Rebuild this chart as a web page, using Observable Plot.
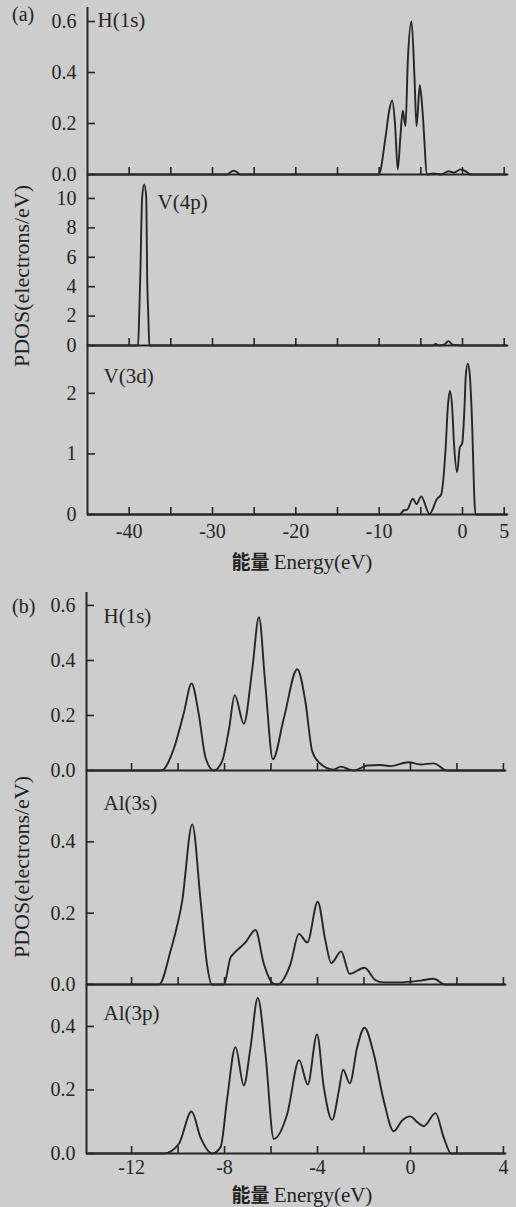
<!DOCTYPE html>
<html>
<head>
<meta charset="utf-8">
<script src="https://cdn.jsdelivr.net/npm/d3@7"></script>
<script src="https://cdn.jsdelivr.net/npm/@observablehq/plot@0.6"></script>
<style>
  html, body { margin: 0; padding: 0; background: #cdcdcd; }
  #wrap { position: relative; width: 516px; height: 1207px; background: #cdcdcd; overflow: hidden; }
  #wrap svg { position: absolute; left: 0; }
  .t { position: absolute; color: #222; font-family: "Liberation Serif", "Times New Roman", serif; white-space: nowrap; line-height: 1; }
  .cjk { font-family: "Noto Sans CJK SC", sans-serif; font-weight: 700; font-size: 19px; }
</style>
</head>
<body>
<div id="wrap"></div>
<script>
// ---------- Data ----------
// Panel (a): energy axis -45..5 eV
const aXTicks = [-40, -35, -30, -25, -20, -15, -10, -5, 0, 5];
const aXLabels = [-40, -30, -20, -10, 0, 5];

const aH1sE = [-45, -28.2, -27.9, -27.45, -27.0, -26.7, -10.05, -9.24, -8.8, -8.44, -8.1, -7.77, -7.45, -7.17, -6.84, -6.56, -6.12, -5.76, -5.52, -5.12, -4.8, -4.24, -3.5, -2.5, -1.68, -1.0, -0.24, 0.4, 0.96, 5.4];
const aH1sV = [0, 0, 0.008, 0.015, 0.008, 0, 0, 0.146, 0.25, 0.29, 0.2, 0.02, 0.15, 0.25, 0.19, 0.447, 0.6, 0.38, 0.19, 0.35, 0.25, 0, 0.004, 0, 0.013, 0.008, 0.02, 0.012, 0, 0];
const aH1sTicks = [0, 0.2, 0.4, 0.6];

const aV4pE = [-45, -38.93, -38.8, -38.65, -38.45, -38.2, -37.94, -37.85, -37.7, -37.58, -3.6, -3.2, -2.8, -2.2, -1.7, -1.2, -0.5, 0.6, 5.4];
const aV4pV = [0, 0, 2, 5.1, 10, 10.95, 10, 5.1, 2, 0, 0, 0.1, 0, 0.05, 0.3, 0.05, 0.02, 0, 0];
const aV4pTicks = [0, 2, 4, 6, 8, 10];

const aV3dE = [-45, -7.53, -7.05, -6.64, -5.96, -5.52, -4.96, -3.96, -3.04, -2.56, -2.04, -1.76, -1.52, -1.24, -1.04, -0.64, -0.32, -0.04, 0.24, 0.4, 0.64, 0.88, 1.08, 1.56, 5.4];
const aV3dV = [0, 0, 0.07, 0.08, 0.26, 0.17, 0.30, 0.01, 0.26, 0.33, 1.06, 1.77, 2.04, 1.77, 1.22, 0.70, 1.11, 1.17, 1.77, 2.3, 2.49, 2.3, 1.77, 0, 0];
const aV3dTicks = [0, 1, 2];

// Panel (b): energy axis -14..4 eV
const bXTicks = [-12, -10, -8, -6, -4, -2, 0, 2, 4];
const bXLabels = [-12, -8, -4, 0, 4];

const bH1sE = [-13.94, -10.72, -10.18, -9.75, -9.42, -9.10, -8.82, -8.46, -8.10, -7.81, -7.56, -7.17, -6.81, -6.52, -6.24, -5.92, -5.45, -4.87, -4.52, -4.23, -3.94, -3.3, -3.0, -2.44, -1.86, -1.29, -0.86, -0.07, 0.43, 1.0, 1.58, 4.09];
const bH1sV = [0, 0, 0.08, 0.21, 0.316, 0.20, 0.047, 0, 0.035, 0.15, 0.274, 0.17, 0.366, 0.557, 0.307, 0.041, 0.189, 0.368, 0.25, 0.071, 0.03, 0.003, 0.014, 0, 0.018, 0.02, 0.016, 0.03, 0.022, 0.026, 0, 0];
const bH1sTicks = [0, 0.2, 0.4, 0.6];

const bAl3sE = [-13.94, -10.82, -10.32, -9.82, -9.39, -9.03, -8.74, -8.55, -8.03, -7.74, -7.6, -7.1, -6.67, -6.31, -5.95, -5.73, -5.16, -4.80, -4.44, -3.99, -3.66, -3.41, -2.98, -2.62, -1.98, -1.5, -1.16, -0.5, 0.43, 1.0, 1.5, 4.09];
const bAl3sV = [0, 0, 0.095, 0.235, 0.449, 0.235, 0.05, 0, 0, 0.076, 0.087, 0.118, 0.153, 0.058, 0.005, 0, 0.058, 0.142, 0.118, 0.232, 0.123, 0.06, 0.093, 0.03, 0.047, 0.012, 0.006, 0.006, 0.011, 0.016, 0, 0];
const bAl3sTicks = [0, 0.2, 0.4];

const bAl3pE = [-13.94, -10.61, -9.97, -9.42, -9.03, -8.53, -8.17, -7.88, -7.53, -7.17, -6.88, -6.57, -6.24, -5.88, -5.30, -4.79, -4.42, -4.02, -3.73, -3.37, -3.08, -2.90, -2.61, -2.29, -1.98, -1.58, -1.15, -0.72, -0.36, 0.0, 0.29, 0.57, 1.08, 1.43, 1.75, 4.09];
const bAl3pV = [0, 0, 0.03, 0.132, 0.05, 0, 0.02, 0.177, 0.335, 0.214, 0.335, 0.49, 0.314, 0.046, 0.125, 0.294, 0.217, 0.375, 0.209, 0.106, 0.198, 0.264, 0.221, 0.335, 0.396, 0.314, 0.167, 0.07, 0.104, 0.117, 0.099, 0.086, 0.127, 0.051, 0, 0];
const bAl3pTicks = [0, 0.2, 0.4];

// ---------- Drawing ----------
const INK = "#262626";
const SERIF = "'Liberation Serif', 'Times New Roman', serif";
const WIDTH = 516;
const TICK = 8;
const wrap = document.getElementById("wrap");
const zip = (E, V) => E.map((e, i) => ({e, v: V[i]}));

function subplot(o) {
  const frameH = o.bottom - o.top;
  const frameW = WIDTH - o.ml - o.mr;
  const h = frameH + o.mt + o.mb;
  const marks = [
    Plot.ruleX([o.xDomain[0]], {stroke: INK, strokeWidth: 2}),
    Plot.ruleY([0], {stroke: INK, strokeWidth: 2}),
    // inward ticks on the left axis
    Plot.tickY(o.yTicks, {y: d => d, insetRight: frameW - TICK, stroke: INK, strokeWidth: 1.6}),
    // inward ticks on the bottom axis
    Plot.tickX(o.xTicks, {x: d => d, insetTop: frameH - TICK + 1, stroke: INK, strokeWidth: 1.6}),
    Plot.axisY({ticks: o.yTicks, tickSize: 0, tickPadding: 11, tickFormat: o.yFmt, fill: INK, fontSize: 20, label: null}),
    Plot.line(zip(o.E, o.V), {x: "e", y: "v", curve: "monotone-x", stroke: INK, strokeWidth: 1.9}),
    Plot.text([o.label], {frameAnchor: "top-left", text: d => d, dx: o.ldx, dy: o.ldy, lineAnchor: "middle", fontSize: 21, fill: INK})
  ];
  if (o.xLabels) {
    marks.push(Plot.axisX({ticks: o.xLabels, tickSize: 0, tickPadding: o.xPad, tickFormat: d => String(d), fill: INK, fontSize: 20, label: null}));
  } else {
    marks.push(Plot.axisX({ticks: [], label: null}));
  }
  const svg = Plot.plot({
    width: WIDTH, height: h,
    marginTop: o.mt, marginBottom: o.mb, marginLeft: o.ml, marginRight: o.mr,
    x: {domain: o.xDomain},
    y: {domain: [0, o.yMax]},
    style: {background: "transparent", fontFamily: SERIF, color: INK, overflow: "visible"},
    marks
  });
  svg.style.top = (o.top - o.mt) + "px";
  wrap.appendChild(svg);
}

const fmt1 = d => d.toFixed(1);
const fmt0 = d => String(d);
const aX = {xDomain: [-45, 5.4], ml: 87, mr: 9, xTicks: aXTicks};
const bX = {xDomain: [-13.94, 4.09], ml: 86, mr: 11, xTicks: bXTicks};

subplot({...aX, top: 7, bottom: 174, mt: 7, mb: 4, yMax: 0.655, yTicks: aH1sTicks, yFmt: fmt1, E: aH1sE, V: aH1sV, label: "H(1s)", ldx: 10, ldy: 13});
subplot({...aX, top: 174, bottom: 345, mt: 4, mb: 4, yMax: 11.63, yTicks: aV4pTicks, yFmt: fmt0, E: aV4pE, V: aV4pV, label: "V(4p)", ldx: 70, ldy: 28});
subplot({...aX, top: 345, bottom: 514, mt: 4, mb: 30, yMax: 2.79, yTicks: aV3dTicks, yFmt: fmt0, E: aV3dE, V: aV3dV, label: "V(3d)", ldx: 16, ldy: 31, xLabels: aXLabels, xPad: 9});

subplot({...bX, top: 592, bottom: 770, mt: 4, mb: 4, yMax: 0.647, yTicks: bH1sTicks, yFmt: fmt1, E: bH1sE, V: bH1sV, label: "H(1s)", ldx: 17, ldy: 24});
subplot({...bX, top: 770, bottom: 984, mt: 4, mb: 4, yMax: 0.6, yTicks: bAl3sTicks, yFmt: fmt1, E: bAl3sE, V: bAl3sV, label: "Al(3s)", ldx: 17, ldy: 33});
subplot({...bX, top: 984, bottom: 1153, mt: 4, mb: 30, yMax: 0.532, yTicks: bAl3pTicks, yFmt: fmt1, E: bAl3pE, V: bAl3pV, label: "Al(3p)", ldx: 17, ldy: 29, xLabels: bXLabels, xPad: 6});

// ---------- Text outside the SVGs ----------
function addText(html, css) {
  const d = document.createElement("div");
  d.className = "t";
  d.innerHTML = html;
  Object.assign(d.style, css);
  wrap.appendChild(d);
}
const titleHTML = '<span class="cjk">能量</span> <span style="font-size:21px">Energy(eV)</span>';
addText(titleHTML, {left: "302px", top: "562px", transform: "translate(-50%,-50%)"});
addText(titleHTML, {left: "302px", top: "1195px", transform: "translate(-50%,-50%)"});
addText("(a)", {left: "12px", top: "4px", fontSize: "20px"});
addText("(b)", {left: "12px", top: "596px", fontSize: "20px"});
addText("PDOS(electrons/eV)", {left: "22px", top: "276px", fontSize: "22px", transform: "translate(-50%,-50%) rotate(-90deg)"});
addText("PDOS(electrons/eV)", {left: "22px", top: "867px", fontSize: "22px", transform: "translate(-50%,-50%) rotate(-90deg)"});
</script>
</body>
</html>
